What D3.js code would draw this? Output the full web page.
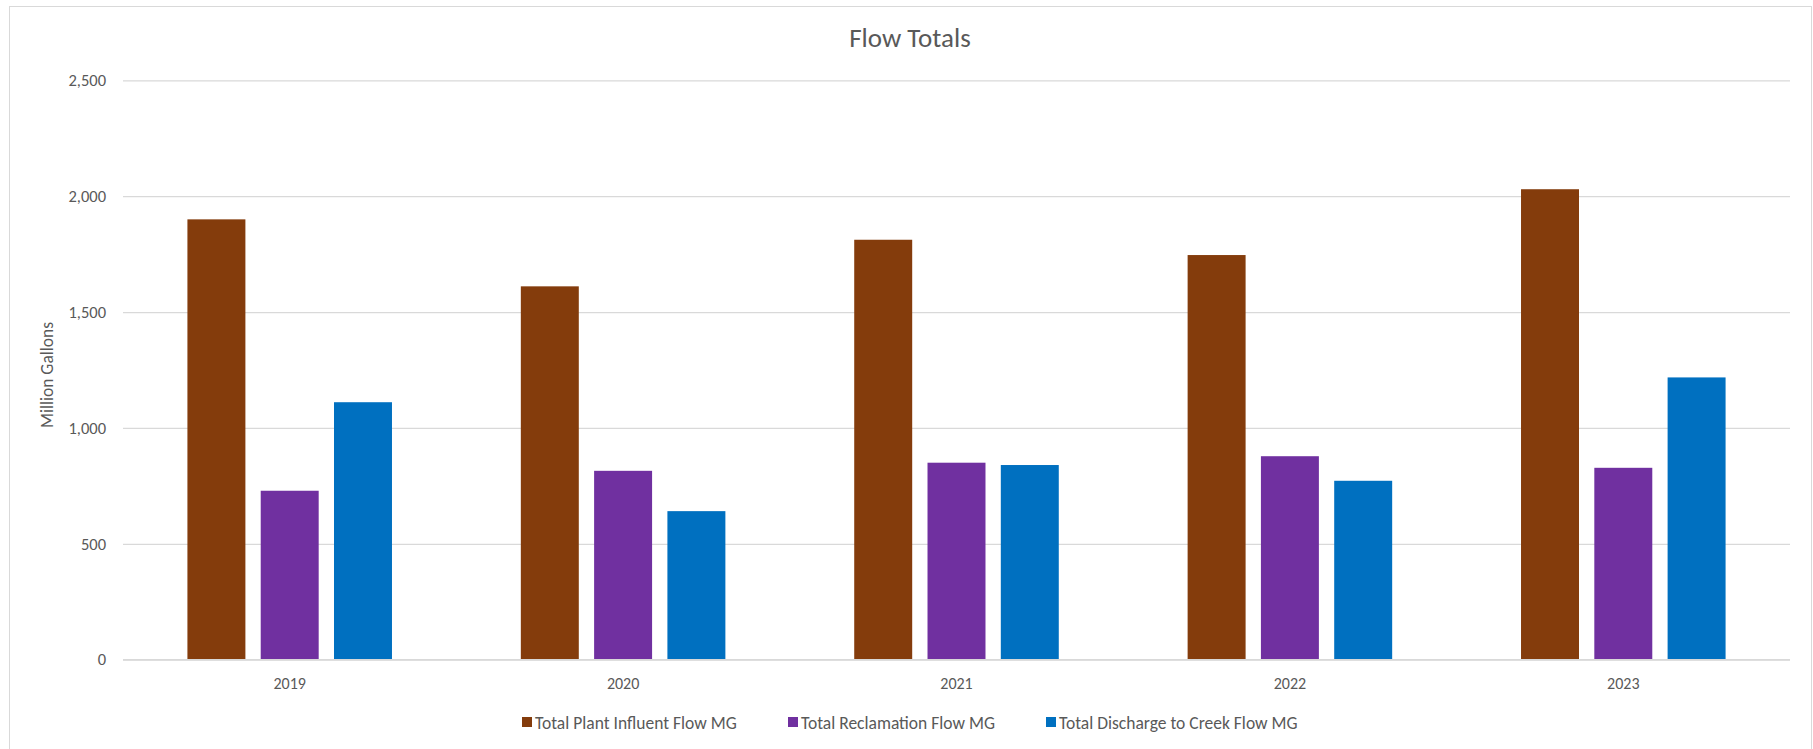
<!DOCTYPE html>
<html>
<head>
    <meta charset="utf-8" />
    <title>Flow Totals</title>
    <script src="https://cdn.jsdelivr.net/npm/d3@7/dist/d3.min.js"></script>
    <style>
        html, body { margin: 0; padding: 0; background: #fff; }
        svg text { font-family: Carlito, Calibri, Lato, "Open Sans", sans-serif; fill: #595959; }
    </style>
</head>
<body>
<svg id="chart" width="1813" height="749"></svg>
<script>
// chart data
var years = ['2019', '2020', '2021', '2022', '2023'];
var seriesNames = ['Total Plant Influent Flow MG', 'Total Reclamation Flow MG', 'Total Discharge to Creek Flow MG'];
var influent = [1900, 1611, 1812, 1746, 2030];
var reclamation = [729, 815, 850, 878, 828];
var discharge = [1111, 641, 840, 772, 1218];
var yTicks = [0, 500, 1000, 1500, 2000, 2500];
var colors = ['#843C0C', '#7030A0', '#0070C0'];

var seriesValues = [influent, reclamation, discharge];

var svg = d3.select('#chart');
// plot area edges (note: "top" is taken by window.top)
var plotLeft = 123, plotRight = 1790, plotTop = 80.3, plotBottom = 659.7;

// outer border of the chart area
svg.append('rect')
    .attr('x', 9.5).attr('y', 6.5)
    .attr('width', 1802).attr('height', 760)
    .attr('fill', '#fff')
    .attr('stroke', '#d9d9d9')
    .attr('stroke-width', 1);

var x = d3.scaleBand().domain(years).range([plotLeft, plotRight]).padding(0);
var xs = d3.scaleBand().domain(d3.range(seriesNames.length))
    .range([0, x.bandwidth()])
    .paddingInner(0.209)
    .paddingOuter(0.879);
var y = d3.scaleLinear().domain([0, 2500]).range([plotBottom, plotTop]);

// gridlines + y labels
var yAxis = d3.axisLeft(y)
    .tickValues(yTicks)
    .tickSize(-(plotRight - plotLeft))
    .tickPadding(17)
    .tickFormat(d3.format(','));
var gy = svg.append('g').attr('transform', 'translate(' + plotLeft + ',0)').call(yAxis);
gy.select('.domain').remove();
gy.selectAll('line').attr('stroke', '#d9d9d9').attr('stroke-width', 1.3);
gy.selectAll('text').style('font-size', '16.5px').attr('fill', '#595959');

// bars
for (var s = 0; s < seriesValues.length; s++) {
    svg.append('g').selectAll('rect')
        .data(seriesValues[s])
        .enter().append('rect')
        .attr('x', function (d, i) { return x(years[i]) + xs(s); })
        .attr('y', function (d) { return y(d); })
        .attr('width', xs.bandwidth())
        .attr('height', function (d) { return y(0) - y(d); })
        .attr('fill', colors[s]);
}

// zero line on top
svg.append('line')
    .attr('x1', plotLeft).attr('x2', plotRight)
    .attr('y1', y(0)).attr('y2', y(0))
    .attr('stroke', '#d9d9d9').attr('stroke-width', 1.5);

// x labels
svg.append('g').selectAll('text')
    .data(years)
    .enter().append('text')
    .attr('x', function (d) { return x(d) + x.bandwidth() / 2; })
    .attr('y', 689)
    .attr('text-anchor', 'middle')
    .style('font-size', '16px')
    .text(function (d) { return d; });

// title
svg.append('text')
    .attr('x', 910).attr('y', 47)
    .attr('text-anchor', 'middle')
    .style('font-size', '27px')
    .text('Flow Totals');

// y axis title
svg.append('text')
    .attr('transform', 'translate(53,' + 375 + ') rotate(-90)')
    .attr('text-anchor', 'middle')
    .style('font-size', '17.5px')
    .text('Million Gallons');

// legend
var legendX = [522, 788, 1046];
var legend = svg.append('g');
seriesNames.forEach(function (name, i) {
    legend.append('rect')
        .attr('x', legendX[i]).attr('y', 717)
        .attr('width', 10).attr('height', 10)
        .attr('fill', colors[i]);
    legend.append('text')
        .attr('x', legendX[i] + 13).attr('y', 728.5)
        .style('font-size', '17.5px')
        .text(name);
});
</script>
</body>
</html>
